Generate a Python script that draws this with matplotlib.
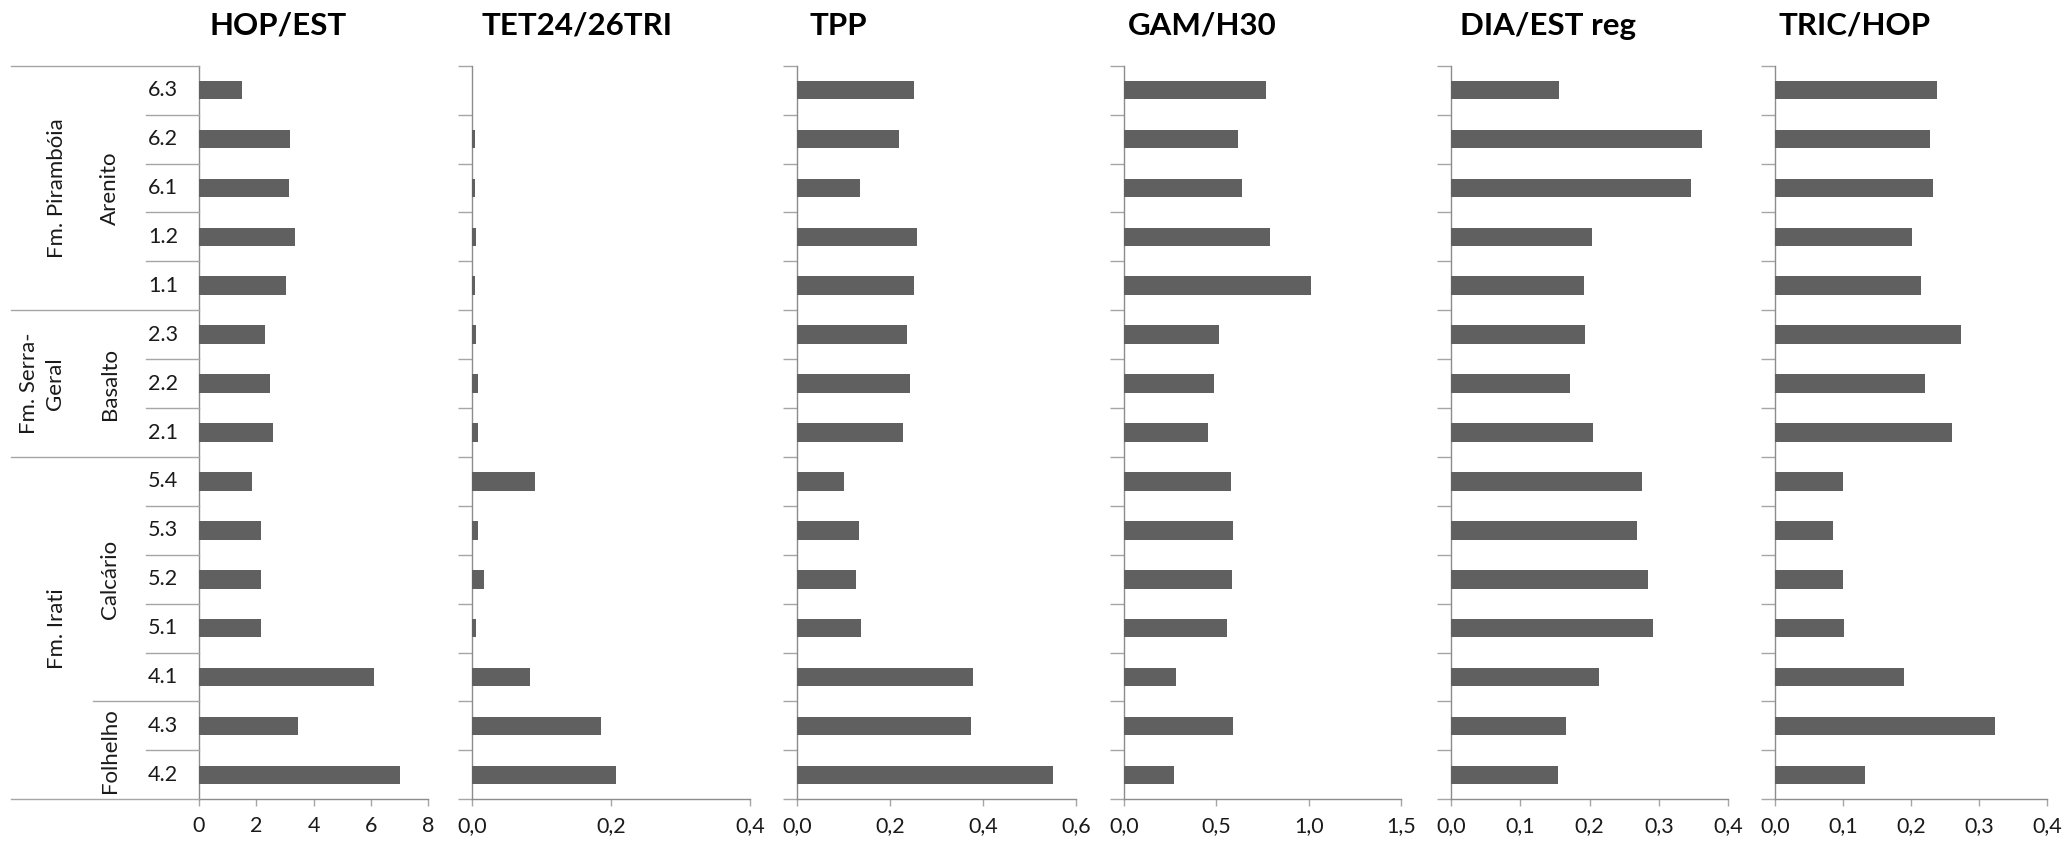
import matplotlib
matplotlib.use("Agg")
import matplotlib.pyplot as plt
import matplotlib.transforms as mtransforms
from matplotlib.lines import Line2D
from matplotlib.ticker import FuncFormatter


FIG_W_PX = 2070
FIG_H_PX = 843
DPI = 100

BAR_COLOR = "#606060"
SPINE_COLOR = "#8c8c8c"
SEP_COLOR = "#a6a6a6"
TEXT_COLOR = "#1a1a1a"
FONT = "Lato"

# samples, top to bottom
SAMPLES = ["6.3", "6.2", "6.1", "1.2", "1.1", "2.3", "2.2", "2.1",
           "5.4", "5.3", "5.2", "5.1", "4.1", "4.3", "4.2"]

# lithology groups: (label, first row, last row)
LITHOLOGY = [("Arenito", 0, 4), ("Basalto", 5, 7), ("Calcário", 8, 12), ("Folhelho", 13, 14)]
# formation groups
FORMATION = [("Fm. Pirambóia", 0, 4), ("Fm. Serra-\nGeral", 5, 7), ("Fm. Irati", 8, 14)]

HOP_EST = [1.49, 3.19, 3.15, 3.36, 3.03, 2.29, 2.47, 2.60,
           1.86, 2.17, 2.17, 2.17, 6.13, 3.47, 7.01]
TET24_26TRI = [0.0, 0.005, 0.005, 0.006, 0.005, 0.006, 0.009, 0.008,
               0.090, 0.009, 0.017, 0.006, 0.084, 0.185, 0.207]
TPP = [0.251, 0.220, 0.135, 0.259, 0.251, 0.236, 0.242, 0.228,
       0.100, 0.133, 0.127, 0.137, 0.378, 0.374, 0.550]
GAM_H30 = [0.767, 0.616, 0.637, 0.792, 1.010, 0.513, 0.488, 0.457,
           0.582, 0.591, 0.587, 0.560, 0.281, 0.591, 0.270]
DIA_EST_REG = [0.156, 0.362, 0.347, 0.203, 0.192, 0.194, 0.172, 0.205,
               0.276, 0.268, 0.284, 0.292, 0.214, 0.166, 0.155]
TRIC_HOP = [0.238, 0.228, 0.232, 0.202, 0.214, 0.273, 0.220, 0.260,
            0.100, 0.086, 0.100, 0.101, 0.189, 0.323, 0.132]

TITLES = ["HOP/EST", "TET24/26TRI", "TPP", "GAM/H30", "DIA/EST reg", "TRIC/HOP"]
SERIES = [HOP_EST, TET24_26TRI, TPP, GAM_H30, DIA_EST_REG, TRIC_HOP]
X_MAX = [8, 0.4, 0.6, 1.5, 0.4, 0.4]
X_STEP = [2, 0.2, 0.2, 0.5, 0.1, 0.1]
X_DECIMALS = [0, 1, 1, 1, 1, 1]

# panel layout in pixels: (left, right) of each plot area, title centre x
PANEL_X = [(199, 428), (472, 750), (797, 1076), (1124, 1401), (1451, 1728), (1775, 2047)]
TITLE_X = [278, 577, 838, 1202, 1548, 1855]
PLOT_TOP = 65.7
PLOT_BOTTOM = 799.3

LABEL_SIZE = 15.5
GROUP_SIZE = 16


def fx(px):
    return px / FIG_W_PX


def fy(py):
    return 1 - py / FIG_H_PX


def fmt_factory(decimals):
    def fmt(v, _pos):
        return f"{v:.{decimals}f}".replace(".", ",")
    return FuncFormatter(fmt)


def draw_panel(fig, i):
    left, right = PANEL_X[i]
    ax = fig.add_axes([fx(left), fy(PLOT_BOTTOM), fx(right - left), (PLOT_BOTTOM - PLOT_TOP) / FIG_H_PX])
    n = len(SAMPLES)
    ax.barh(range(n), SERIES[i], height=0.38, color=BAR_COLOR, zorder=3)
    ax.set_ylim(n - 0.5, -0.5)
    ax.set_xlim(0, X_MAX[i])

    ticks = []
    v = 0.0
    while v <= X_MAX[i] + 1e-9:
        ticks.append(round(v, 6))
        v += X_STEP[i]
    ax.set_xticks(ticks)
    ax.xaxis.set_major_formatter(fmt_factory(X_DECIMALS[i]))

    for side in ("top", "right"):
        ax.spines[side].set_visible(False)
    for side in ("left", "bottom"):
        ax.spines[side].set_color(SPINE_COLOR)
        ax.spines[side].set_linewidth(1.0)

    ax.tick_params(axis="x", direction="out", length=5, width=1.0, color=SEP_COLOR,
                   labelsize=LABEL_SIZE, labelcolor=TEXT_COLOR, pad=7)
    for lab in ax.get_xticklabels():
        lab.set_fontfamily(FONT)

    if i == 0:
        ax.set_yticks([])
    else:
        ax.set_yticks([k - 0.5 for k in range(n + 1)])
        ax.set_yticklabels([])
        ax.tick_params(axis="y", direction="out", length=10, width=1.0, color=SEP_COLOR)

    fig.text(fx(TITLE_X[i]), fy(26), TITLES[i], ha="center", va="center",
             fontsize=22.5, fontweight="bold", family=FONT, color="black")
    return ax


def draw_category_labels(fig, ax):
    trans = mtransforms.blended_transform_factory(fig.transFigure, ax.transData)
    n = len(SAMPLES)
    axis_x = fx(PANEL_X[0][0])

    form_edges = {FORMATION[0][1] - 0.5}
    for _, a, b in FORMATION:
        form_edges.add(b + 0.5)
    lith_edges = set()
    for _, a, b in LITHOLOGY:
        lith_edges.add(a - 0.5)
        lith_edges.add(b + 0.5)

    for k in range(n + 1):
        y = k - 0.5
        if y in form_edges:
            x0 = fx(11)
        elif y in lith_edges:
            x0 = fx(93)
        else:
            x0 = fx(146)
        fig.add_artist(Line2D([x0, axis_x], [y, y], transform=trans,
                              color=SEP_COLOR, linewidth=1.0, clip_on=False))

    for k, s in enumerate(SAMPLES):
        fig.text(fx(163), k, s, transform=trans, ha="center", va="center",
                 fontsize=LABEL_SIZE, family=FONT, color=TEXT_COLOR)

    for label, a, b in LITHOLOGY:
        fig.text(fx(110), (a + b) / 2, label, transform=trans, ha="center", va="center",
                 rotation=90, fontsize=GROUP_SIZE, family=FONT, color=TEXT_COLOR)

    for label, a, b in FORMATION:
        x = 42 if "\n" in label else 57
        fig.text(fx(x), (a + b) / 2, label, transform=trans, ha="center", va="center",
                 rotation=90, fontsize=GROUP_SIZE, family=FONT, color=TEXT_COLOR,
                 multialignment="center", linespacing=1.35)


def main():
    fig = plt.figure(figsize=(FIG_W_PX / DPI, FIG_H_PX / DPI), dpi=DPI)
    fig.patch.set_facecolor("white")

    axes = [draw_panel(fig, i) for i in range(len(SERIES))]
    draw_category_labels(fig, axes[0])

    fig.savefig("out.png", dpi=DPI, facecolor="white")
    plt.close(fig)


if __name__ == "__main__":
    main()
